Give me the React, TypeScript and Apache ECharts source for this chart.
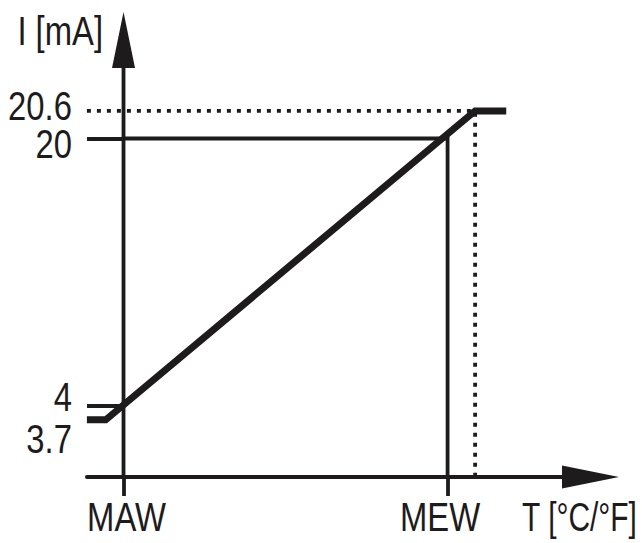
import React, { useEffect, useRef } from 'react';
import * as echarts from 'echarts';

// ---- data ----
const xTickValues = [0, 100];
const xTickLabels = ['MAW', 'MEW'];
const yTickValues = [3.7, 4, 20, 20.6];
const yTickLabels = ['3.7', '4', '20', '20.6'];
const yTickMarks = [4, 20];
// output characteristic (T in schematic units: MAW = 0, MEW = 100)
const curveT = [-11.3, -5.5, 108.5, 118.1];
const curveI = [3.7, 3.7, 20.6, 20.6];
const mewT = 100;
const mewI = 20;
const satT = 108.5;
const satI = 20.6;
const xName = 'T [°C/°F]';
const yName = 'I [mA]';

const X_MIN = -11.3;
const X_MAX = 144.1;
const Y_MIN = 2.457;
const Y_MAX = 22.141;

const INK = '#1d1b1c';
const FONT = '"Liberation Sans", Arial, Helvetica, sans-serif';
const FS = 41;
const SX = 0.8; // horizontal squeeze to mimic a condensed face
const THIN = 3.8;
const THICK = 7;

// per-label vertical nudges (px) relative to their tick line
const yLabelDy = [18.7, -9, 4.8, -4.9];
// per-label horizontal nudges (px) relative to their tick
const xLabelDx = [3, -7.5];

export default function App() {
  const ref = useRef<HTMLDivElement>(null);
  useEffect(() => {
    document.body.style.margin = '0';
    const chart = echarts.init(ref.current!, undefined, { renderer: 'svg' });

    chart.setOption({
      animation: false,
      backgroundColor: '#ffffff',
      grid: {
        left: 86.9,
        right: 51.5,
        top: 40,
        bottom: 66,
        containLabel: false,
        outerBoundsMode: 'none',
      },
      xAxis: {
        type: 'value',
        min: X_MIN,
        max: X_MAX,
        axisLine: {
          show: true,
          onZero: false,
          symbol: ['none', 'triangle'],
          symbolSize: [23, 57],
          lineStyle: { color: INK, width: THIN },
        },
        axisTick: {
          show: true,
          customValues: xTickValues,
          length: 19,
          lineStyle: { color: INK, width: THIN },
        },
        axisLabel: { show: false },
        splitLine: { show: false },
      },
      yAxis: {
        type: 'value',
        min: Y_MIN,
        max: Y_MAX,
        breaks: [{ start: 4.1, end: 19.9, gap: 5.615 }],
        breakArea: {
          show: false,
          itemStyle: { opacity: 0 },
          expandOnClick: false,
        },
        axisLine: {
          show: true,
          onZero: true,
          symbol: 'none',
          lineStyle: { color: INK, width: THIN, opacity: 0 },
        },
        axisTick: {
          show: true,
          customValues: yTickMarks,
          length: 36.5,
          lineStyle: { color: INK, width: THIN },
        },
        axisLabel: { show: false },
        splitLine: { show: false },
      },
      series: [
        {
          type: 'line',
          name: 'I axis',
          data: [
            { value: [0, Y_MIN], symbol: 'none' },
            { value: [0, Y_MAX], symbol: 'triangle', symbolSize: [23, 56] },
          ],
          showSymbol: true,
          showAllSymbol: true,
          clip: false,
          lineStyle: { color: INK, width: THIN },
          itemStyle: { color: INK, borderWidth: 0 },
          z: 2,
        },
        {
          type: 'line',
          name: 'MEW',
          data: [
            [0, mewI],
            [mewT, mewI],
            [mewT, Y_MIN],
          ],
          symbol: 'none',
          clip: false,
          lineStyle: { color: INK, width: THIN, join: 'miter' },
          z: 2,
        },
        {
          type: 'line',
          name: 'sat',
          data: [
            [X_MIN, satI],
            [satT, satI],
            [satT, Y_MIN],
          ],
          symbol: 'none',
          clip: false,
          lineStyle: { color: INK, width: THIN, type: [4, 6] },
          z: 2,
        },
        {
          type: 'line',
          name: 'I',
          data: curveT.map((t, i) => [t, curveI[i]]),
          symbol: 'none',
          clip: false,
          lineStyle: { color: INK, width: THICK, join: 'miter' },
          z: 3,
        },
      ],
    });

    const toPx = (x: number, y: number) =>
      chart.convertToPixel({ gridIndex: 0 }, [x, y]) as number[];
    const txt = (text: string, x: number, y: number, align: string, sx = SX) => ({
      type: 'text',
      x,
      y,
      scaleX: sx,
      silent: true,
      style: {
        text,
        x: 0,
        y: 0,
        fill: INK,
        fontSize: FS,
        fontFamily: FONT,
        align,
        verticalAlign: 'middle',
      },
    });

    const leftEdge = toPx(X_MIN, Y_MIN)[0];
    const axisX = toPx(0, Y_MIN)[0];
    const bottomY = toPx(X_MIN, Y_MIN)[1];
    const topY = toPx(0, Y_MAX)[1];
    const endX = toPx(X_MAX, Y_MIN)[0];

    const graphics: any[] = [];
    yTickValues.forEach((v, i) => {
      const py = toPx(X_MIN, v)[1];
      graphics.push(txt(yTickLabels[i], leftEdge - 15, py + yLabelDy[i], 'right'));
    });
    xTickValues.forEach((v, i) => {
      const px = toPx(v, Y_MIN)[0];
      graphics.push(txt(xTickLabels[i], px + xLabelDx[i], bottomY + 40, 'center'));
    });
    graphics.push(txt(xName, endX - 11, bottomY + 40, 'center', 0.73));
    graphics.push(txt(yName, axisX - 20.5, topY - 9.5, 'right'));

    chart.setOption({ graphic: graphics });
    return () => chart.dispose();
  }, []);
  return <div ref={ref} style={{ width: 642, height: 543 }} />;
}
